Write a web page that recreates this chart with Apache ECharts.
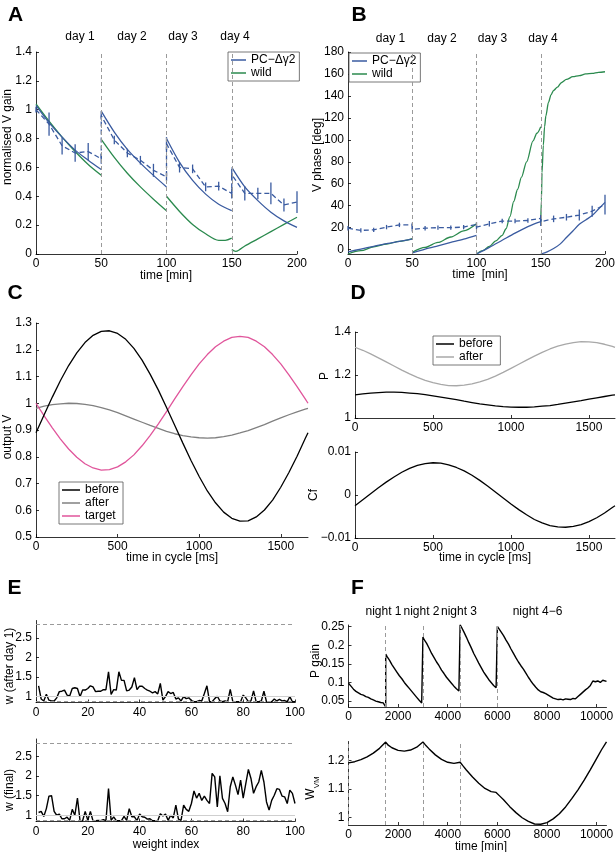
<!DOCTYPE html>
<html><head><meta charset="utf-8">
<script src="https://cdn.jsdelivr.net/npm/echarts@6/dist/echarts.min.js"></script>
<style>html,body{margin:0;padding:0;background:#fff}#c{width:616px;height:852px}</style>
</head><body><div id="c"></div>
<script>
// ================= DATA =================
// Panel A : normalised V gain
const dayBounds = [50, 100, 150];
const aModelPC = [
  [[0,1.03],[10,0.91],[20,0.81],[30,0.72],[40,0.65],[50,0.585]],
  [[50,0.99],[60,0.845],[70,0.725],[80,0.63],[90,0.545],[100,0.465]],
  [[100,0.80],[110,0.635],[120,0.51],[130,0.415],[140,0.345],[150,0.30]],
  [[150,0.60],[160,0.465],[170,0.37],[180,0.29],[190,0.23],[200,0.185]]
];
const aModelWild = [
  [[0,1.04],[10,0.92],[20,0.81],[30,0.71],[40,0.62],[50,0.545]],
  [[50,0.795],[60,0.67],[70,0.56],[80,0.465],[90,0.38],[100,0.30]],
  [[100,0.40],[110,0.295],[120,0.205],[130,0.14],[140,0.095],[145,0.095],[150,0.11]],
  [[150,0.03],[153,0.018],[156,0.03],[160,0.055],[170,0.105],[180,0.155],[190,0.205],[200,0.255]]
];
const expX = [0,10,20,30,40,50, 50,60,70,80,90,100, 100,110,120,130,140,150, 150,160,170,180,190,200];
const aExpMean = [1.00,0.90,0.75,0.70,0.71,0.66, 0.96,0.79,0.70,0.65,0.58,0.535, 0.765,0.60,0.59,0.465,0.47,0.42, 0.55,0.42,0.42,0.42,0.34,0.36];
const aExpErr  = [0.02,0.08,0.06,0.06,0.06,0.035, 0.03,0.03,0.03,0.03,0.045,0.03, 0.045,0.035,0.03,0.03,0.03,0.035, 0.04,0.05,0.04,0.075,0.045,0.075];

// Panel B : V phase [deg]
const bModelPC = [
  [[0,-2],[10,0.5],[20,3],[30,5.5],[40,7.5],[50,9.5]],
  [[50,-3],[60,0.5],[70,3.5],[80,6.5],[90,9.5],[100,13]],
  [[100,-4],[110,2],[120,8.5],[130,15],[140,21],[145,23.5],[150,25.5]],
  [[150,-4],[155,-2],[160,1],[165,5],[170,11],[175,17],[180,23],[185,27],[190,31],[195,37],[200,43]]
];
const bModelWild = [
  [[0,-4],[10,-1],[20,2.5],[30,5],[40,7.5],[50,10]],
  [[50,-2.5],[60,2],[70,6.5],[80,11.5],[90,17],[100,23.5]],
  [[100,-4],[105,-1],[110,3],[115,8],[120,13],[123,19],[126,30],[129,44],[132,55],[135,66],[139,80],[144,99],[147,106],[150,112]],
  [[150,25],[150.5,45],[151,70],[152,95],[153,112],[154,122],[156,134],[158,141],[160,145],[163,148],[166,152],[170,155],[175,157.5],[180,158.5],[185,160],[190,160.5],[195,161.5],[200,162]]
];
const bExpMean = [19.5,17.5,18,20.5,22.5,22.5, 18.5,19.5,20,20,20.5,23, 20.5,23.5,26,26,26.5,28.5, 25.5,28,29.5,31.5,35,41];
const bExpErr  = [2,2,2,2,2,2, 2,2,2,2,2,2, 2,2.5,2,2,2,3, 4,3,3,5,5,9];
const bYTicks = [0,20,40,60,80,100,120,140,160,180];

// Panel C / D : one cycle (ms)
const tCycle = [0,50,100,150,200,250,300,350,400,450,500,550,600,650,700,750,800,850,900,950,1000,1050,1100,1150,1200,1250,1300,1350,1400,1450,1500,1550,1600,1650,1667];
const cycleTicks = [0,500,1000,1500];
const cBefore = [0.890,0.957,1.023,1.085,1.141,1.188,1.227,1.254,1.269,1.271,1.261,1.239,1.205,1.161,1.108,1.049,0.984,0.918,0.851,0.786,0.726,0.672,0.628,0.593,0.570,0.559,0.560,0.575,0.601,0.638,0.686,0.741,0.802,0.868,0.890];
const cAfter  = [0.981,0.989,0.995,0.998,1.000,0.999,0.996,0.991,0.984,0.975,0.965,0.953,0.941,0.929,0.917,0.906,0.895,0.886,0.879,0.874,0.871,0.870,0.871,0.875,0.881,0.889,0.898,0.909,0.920,0.933,0.945,0.957,0.968,0.978,0.981];
const cTarget = [1.000,0.953,0.908,0.866,0.829,0.798,0.774,0.758,0.750,0.752,0.762,0.781,0.807,0.841,0.880,0.923,0.969,1.016,1.062,1.106,1.147,1.182,1.211,1.232,1.246,1.250,1.246,1.232,1.211,1.182,1.147,1.106,1.062,1.016,1.000];
const dPBefore = [1.108,1.112,1.116,1.118,1.120,1.120,1.119,1.116,1.113,1.109,1.103,1.097,1.091,1.085,1.078,1.072,1.066,1.061,1.056,1.053,1.051,1.050,1.050,1.052,1.055,1.058,1.063,1.069,1.075,1.081,1.088,1.094,1.100,1.106,1.108];
const dPAfter  = [1.329,1.315,1.298,1.280,1.261,1.242,1.223,1.205,1.189,1.175,1.164,1.156,1.151,1.150,1.153,1.159,1.168,1.180,1.195,1.212,1.231,1.250,1.269,1.288,1.305,1.321,1.334,1.344,1.351,1.355,1.354,1.351,1.343,1.333,1.329];
const dCf = [-0.0025,-0.0011,0.0003,0.0017,0.0030,0.0042,0.0053,0.0062,0.0069,0.0073,0.0075,0.0074,0.0070,0.0064,0.0056,0.0046,0.0034,0.0021,0.0007,-0.0007,-0.0021,-0.0034,-0.0046,-0.0057,-0.0065,-0.0071,-0.0074,-0.0075,-0.0073,-0.0069,-0.0062,-0.0053,-0.0042,-0.0029,-0.0025];

// Panel E : weights
const weightIndex = Array.from({length:100}, (_, i) => i + 1);
const eTicks = [1,1.5,2,2.5];
const eBounds = [0.86, 2.85];
const eAfterDay1 = [1.27,0.93,0.88,1.05,0.90,0.88,0.88,0.96,1.12,1.13, 1.16,1.03,1.01,1.20,1.22,1.20,0.99,1.16,1.16,1.20,
  1.27,1.24,1.12,1.13,1.13,1.17,1.17,1.63,1.05,1.17, 1.16,1.63,1.41,1.41,1.14,1.16,1.24,1.48,1.17,1.26,
  1.26,1.20,1.16,1.13,1.09,1.12,1.06,1.33,0.90,0.99, 1.12,1.07,1.10,0.93,0.96,0.88,0.99,0.94,0.96,0.89,
  0.86,0.86,0.89,0.88,1.07,1.27,0.86,0.86,0.94,1.00, 0.88,0.86,0.88,0.86,1.18,0.86,0.86,0.86,0.86,1.03,
  0.96,0.86,0.88,1.14,0.86,0.86,0.88,1.13,0.86,0.86, 0.86,0.93,0.88,0.92,0.88,0.89,0.86,0.99,0.86,0.86];
const eFinal = [1.07,1.10,0.97,1.17,1.49,1.50,1.10,1.00,1.03,0.91, 0.91,0.95,0.87,1.15,1.00,1.44,0.86,0.86,1.10,0.87,
  1.10,0.86,0.86,0.87,0.86,0.89,0.86,1.68,0.87,0.96, 0.86,0.86,0.86,0.97,0.87,1.17,0.96,0.96,0.86,1.03,
  0.96,0.95,0.90,0.91,0.86,0.86,0.86,1.04,0.98,1.03, 0.87,1.00,0.93,1.26,0.90,0.87,1.26,1.15,1.10,1.30,
  1.62,1.44,1.56,1.38,1.49,1.38,1.30,2.07,1.98,1.21, 2.01,1.43,1.30,1.09,1.73,1.98,1.77,1.53,1.90,1.44,
  1.81,2.17,1.94,1.56,1.73,1.85,2.15,1.85,1.34,1.13, 1.38,1.51,1.68,1.66,1.49,1.47,1.30,1.64,1.56,1.30];

// Panel F : long-term
const fTicks = [0,2000,4000,6000,8000,10000];
const nightStarts = [1500,3000,4500,6000];
const nightLinesW = [0,1500,3000,4500];
const fPTicks = [0.05,0.1,0.15,0.2,0.25];
const fWTicks = [1,1.1,1.2];
const fPGain = [[0,0.098],[50,0.094],[100,0.090],[150,0.086],[200,0.082],[300,0.076],[400,0.072],[500,0.068],[600,0.066],[700,0.062],[800,0.060],[900,0.056],[1000,0.053],[1100,0.050],[1200,0.048],[1250,0.045],[1300,0.046],[1350,0.044],[1400,0.045],[1450,0.040],[1500,0.034],
  [1500,0.176],[1550,0.170],[1650,0.160],[1750,0.148],[1850,0.138],[1950,0.128],[2050,0.118],[2150,0.110],[2250,0.100],[2350,0.092],[2450,0.084],[2550,0.076],[2650,0.068],[2750,0.060],[2850,0.052],[2950,0.045],[3000,0.042],
  [3000,0.222],[3050,0.215],[3150,0.205],[3250,0.192],[3350,0.178],[3450,0.167],[3550,0.155],[3650,0.145],[3750,0.133],[3850,0.124],[3950,0.114],[4050,0.106],[4150,0.098],[4250,0.090],[4350,0.083],[4450,0.077],[4500,0.072],
  [4500,0.255],[4550,0.249],[4650,0.236],[4750,0.222],[4850,0.207],[4950,0.193],[5050,0.178],[5150,0.165],[5250,0.152],[5350,0.140],[5450,0.128],[5550,0.118],[5650,0.108],[5750,0.100],[5850,0.092],[5950,0.086],[6000,0.082],
  [6000,0.251],[6050,0.246],[6150,0.236],[6250,0.226],[6350,0.214],[6450,0.203],[6550,0.190],[6650,0.178],[6750,0.166],[6850,0.155],[6950,0.145],[7050,0.136],[7150,0.125],[7250,0.114],[7350,0.104],[7450,0.095],[7550,0.087],[7650,0.080],[7750,0.075],[7850,0.073],[7950,0.070],[8050,0.066],[8150,0.062],[8250,0.058],[8350,0.056],[8450,0.054],[8550,0.055],[8650,0.053],[8750,0.056],[8850,0.055],[8950,0.054],[9050,0.057],[9150,0.056],[9250,0.062],[9350,0.068],[9450,0.074],[9550,0.080],[9650,0.085],[9750,0.092],[9850,0.104],[9950,0.102],[10050,0.104],[10150,0.100],[10250,0.106],[10320,0.110],[10400,0.103]];
const fWvm = [[0,1.192],[250,1.196],[500,1.203],[750,1.213],[1000,1.226],[1250,1.243],[1500,1.265],[1600,1.254],[1750,1.245],[2000,1.236],[2250,1.233],[2500,1.237],[2750,1.247],[3000,1.265],[3100,1.255],[3250,1.241],[3500,1.220],[3750,1.204],[4000,1.194],[4250,1.190],[4500,1.194],[4600,1.183],[4750,1.167],[5000,1.142],[5250,1.120],[5500,1.102],[5750,1.091],[5950,1.088],[6000,1.087],[6100,1.075],[6250,1.062],[6500,1.038],[6750,1.017],[7000,0.999],[7250,0.986],[7500,0.977],[7750,0.976],[8000,0.982],[8250,0.995],[8500,1.013],[8750,1.037],[9000,1.066],[9250,1.097],[9500,1.131],[9750,1.168],[10000,1.207],[10200,1.238],[10400,1.266]];

// ================= STYLE / BUILD =================
const FONT = "'Liberation Sans', Arial, Helvetica, sans-serif";
const BLUE = '#3a5ba0', GREEN = '#2b8a4e', PINK = '#e0559b', GRAY = '#808080', LGRAY = '#a8a8a8', DASH = '#9a9a9a';
const PC = 'PC\u2212\u0394\u03B32';

const gridPos = [
  [36, 52, 261, 202],     // A
  [348, 52, 257, 202],    // B
  [36, 323, 272, 214],    // C
  [355, 332, 260, 86],    // D top
  [355, 452, 260, 86],    // D bottom
  [36, 620.5, 259, 82],   // E top
  [36, 739, 259, 82.5],   // E bottom
  [348.5, 625, 258, 82],  // F top
  [348.5, 741.5, 258, 83.5] // F bottom
];
const grids = gridPos.map(g => ({left:g[0], top:g[1], width:g[2], height:g[3], containLabel:false, outerBoundsMode:'none', show:false}));

const numFmt = v => { const n = +(+v).toFixed(6); return n < 0 ? '\u2212' + Math.abs(n) : String(n); };
function axis(idx, min, max, o) {
  o = o || {};
  const a = {type:'value', gridIndex:idx, min:min, max:max,
    axisLine:{show:true, onZero:false, lineStyle:{color:'#000', width:0.8}},
    axisTick:{show:true, inside:true, length:3, lineStyle:{color:'#000', width:0.8}},
    axisLabel:{show:true, color:'#000', fontSize:12, fontFamily:FONT, margin:4, hideOverlap:false, formatter:numFmt},
    splitLine:{show:false}};
  if (o.interval != null) a.interval = o.interval;
  if (o.ticks) { a.axisLabel.customValues = o.ticks; a.axisTick.customValues = o.ticks; }
  return a;
}

const xAxes = [
  axis(0, 0, 200, {interval:50}),
  axis(1, 0, 200, {interval:50}),
  axis(2, 0, 1667, {ticks:cycleTicks}),
  axis(3, 0, 1667, {ticks:cycleTicks}),
  axis(4, 0, 1667, {ticks:cycleTicks}),
  axis(5, 0, 100, {interval:20}),
  axis(6, 0, 100, {interval:20}),
  axis(7, 0, 10400, {ticks:fTicks}),
  axis(8, 0, 10400, {ticks:fTicks})
];
const yAxes = [
  axis(0, 0, 1.4, {interval:0.2}),
  axis(1, -4, 180, {ticks:bYTicks}),
  axis(2, 0.5, 1.3, {interval:0.1}),
  axis(3, 1, 1.4, {interval:0.2}),
  axis(4, -0.01, 0.01, {interval:0.01}),
  axis(5, 0.84, 2.95, {ticks:eTicks}),
  axis(6, 0.84, 2.95, {ticks:eTicks}),
  axis(7, 0.034, 0.2545, {ticks:fPTicks}),
  axis(8, 0.9735, 1.267, {ticks:fWTicks})
];

function line(name, data, idx, color, extra) {
  return Object.assign({type:'line', name:name, data:data, xAxisIndex:idx, yAxisIndex:idx,
    symbol:'none', showSymbol:false, smooth:false, silent:true, z:3,
    lineStyle:{color:color, width:1.3}, itemStyle:{color:color}, emphasis:{disabled:true}}, extra || {});
}
function vlines(xs) {
  return {silent:true, symbol:['none','none'], label:{show:false}, animation:false,
    lineStyle:{color:DASH, type:[4,3], width:1}, emphasis:{disabled:true},
    data: xs.map(x => ({xAxis:x}))};
}
function errSeries(idx, xs, means, errs) {
  return {type:'custom', xAxisIndex:idx, yAxisIndex:idx, silent:true, z:4,
    data: xs.map((x, i) => [x, means[i] - errs[i], means[i] + errs[i]]),
    encode:{x:0, y:[1,2]},
    renderItem: (params, api) => {
      const p1 = api.coord([api.value(0), api.value(1)]);
      const p2 = api.coord([api.value(0), api.value(2)]);
      return {type:'line', shape:{x1:p1[0], y1:p1[1], x2:p2[0], y2:p2[1]}, style:{stroke:BLUE, lineWidth:1.3}};
    }};
}
const pairs = (xs, ys) => xs.map((x, i) => [x, ys[i]]);

const series = [];
// A
aModelWild.forEach(s => series.push(line('wild', s, 0, GREEN, {smooth:0.3})));
aModelPC.forEach(s => series.push(line(PC, s, 0, BLUE, {smooth:0.3})));
series.push(line('A data', pairs(expX, aExpMean), 0, BLUE, {lineStyle:{color:BLUE, width:1.3, type:[5,3]}, markLine:vlines(dayBounds)}));
series.push(errSeries(0, expX, aExpMean, aExpErr));
// B
bModelWild.forEach(s => series.push(line('wild', s, 1, GREEN, {smooth:0.3, smoothMonotone:'x'})));
bModelPC.forEach(s => series.push(line(PC, s, 1, BLUE, {smooth:0.3})));
series.push(line('B data', pairs(expX, bExpMean), 1, BLUE, {lineStyle:{color:BLUE, width:1.3, type:[5,3]}, markLine:vlines(dayBounds)}));
series.push(errSeries(1, expX, bExpMean, bExpErr));
// C
series.push(line('after', pairs(tCycle, cAfter), 2, GRAY));
series.push(line('target', pairs(tCycle, cTarget), 2, PINK));
series.push(line('before', pairs(tCycle, cBefore), 2, '#000'));
// D
series.push(line('before ', pairs(tCycle, dPBefore), 3, '#000'));
series.push(line('after ', pairs(tCycle, dPAfter), 3, LGRAY));
series.push(line('Cf', pairs(tCycle, dCf), 4, '#000'));
// E
const eMarks = {silent:true, symbol:['none','none'], label:{show:false}, animation:false, emphasis:{disabled:true},
  lineStyle:{color:DASH, type:[4,3], width:1},
  data:[{yAxis:1, lineStyle:{color:'#cfcfcf', type:'solid', width:1}}, {yAxis:eBounds[0]}, {yAxis:eBounds[1]}]};
series.push(line('w1', pairs(weightIndex, eAfterDay1), 5, '#000', {markLine:eMarks, lineStyle:{color:'#000', width:1.4}}));
series.push(line('w2', pairs(weightIndex, eFinal), 6, '#000', {markLine:eMarks, lineStyle:{color:'#000', width:1.4}}));
// F
series.push(line('P gain', fPGain, 7, '#000', {markLine:vlines(nightStarts), lineStyle:{color:'#000', width:1.4}}));
series.push(line('Wvm', fWvm, 8, '#000', {markLine:vlines(nightLinesW), lineStyle:{color:'#000', width:1.4}}));

function legend(left, top, names, w) {
  return {left:left, top:top, orient:'vertical', data:names, icon:'rect', itemWidth:w, itemHeight:1.5,
    itemGap:1, padding:[2,4,2,3], borderColor:'#555', borderWidth:0.8, backgroundColor:'#fff',
    selectedMode:false, textStyle:{fontSize:12, fontFamily:FONT, color:'#000'}};
}

function T(text, x, y, o) {
  o = o || {};
  return {type:'text', x:x, y:y, rotation:o.rot || 0, z:100, silent:true,
    style:{text:text, fill:'#000', fontSize:o.size || 12, fontWeight:o.bold ? 'bold' : 'normal',
      fontFamily:FONT, align:'center', verticalAlign:'middle', rich:o.rich}};
}
const R = Math.PI / 2;
const texts = [
  T('A', 15.5, 15, {size:21, bold:true}), T('B', 359, 15, {size:21, bold:true}),
  T('C', 15, 293, {size:21, bold:true}), T('D', 358, 293, {size:21, bold:true}),
  T('E', 14.5, 588, {size:21, bold:true}), T('F', 357.5, 588, {size:21, bold:true}),
  T('day 1', 80, 37), T('day 2', 132, 37), T('day 3', 183, 37), T('day 4', 235, 37),
  T('day 1', 390.5, 39), T('day 2', 442, 39), T('day 3', 492.5, 39), T('day 4', 543, 39),
  T('night 1', 383.5, 612), T('night 2', 421.5, 612), T('night 3', 459, 612), T('night 4\u22126', 537.5, 612),
  T('normalised V gain', 8, 137, {rot:R}), T('time [min]', 166, 276),
  T('V phase [deg]', 318, 155, {rot:R}), T('time  [min]', 480, 275),
  T('output V', 8, 437, {rot:R}), T('time in cycle [ms]', 172, 558),
  T('P', 325, 376, {rot:R}), T('Cf', 314, 495, {rot:R}), T('time in cycle [ms]', 485, 558),
  T('w (after day 1)', 10, 666, {rot:R}), T('w (final)', 10, 790, {rot:R}), T('weight index', 166, 845),
  T('P gain', 316, 661, {rot:R}),
  T('{a|W}{s|VM}', 313, 788, {rot:R, rich:{a:{fontSize:12, fontFamily:FONT, fill:'#000', verticalAlign:'top', lineHeight:16},
                                           s:{fontSize:8, fontFamily:FONT, fill:'#000', verticalAlign:'bottom', lineHeight:16}}}),
  T('time [min]', 481, 847)
];

const chart = echarts.init(document.getElementById('c'), null, {renderer:'canvas'});
chart.setOption({
  animation:false,
  backgroundColor:'#fff',
  textStyle:{fontFamily:FONT},
  grid:grids, xAxis:xAxes, yAxis:yAxes, series:series,
  legend:[
    legend(228, 52, [PC, 'wild'], 15),
    legend(349, 53, [PC, 'wild'], 15),
    legend(59, 482, ['before','after','target'], 18),
    legend(433, 336, ['before ','after '], 18)
  ],
  graphic:texts
});
</script></body></html>
